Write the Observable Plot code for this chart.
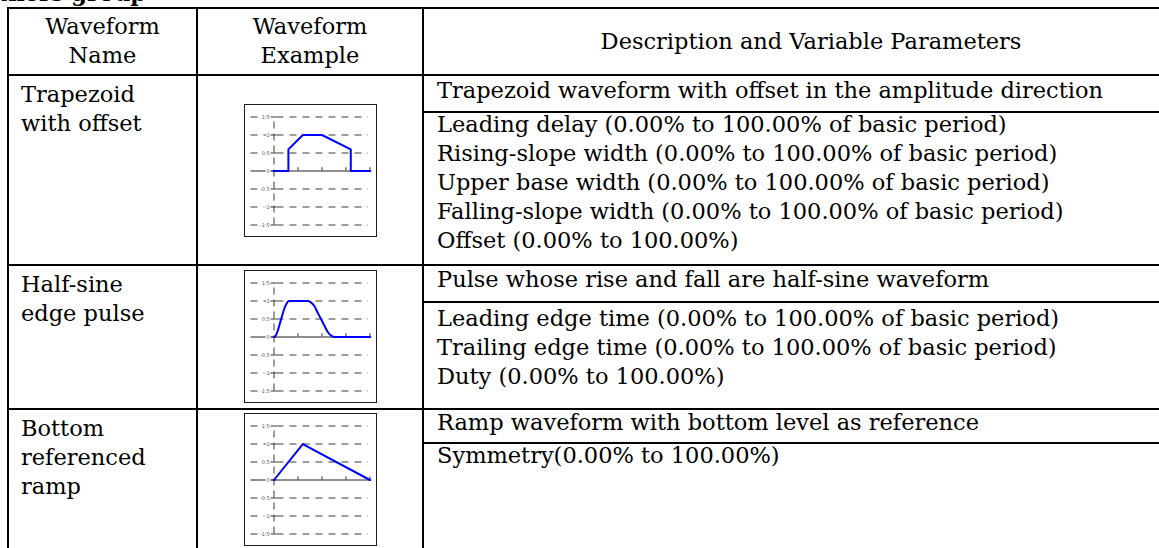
<!DOCTYPE html>
<html><head><meta charset="utf-8">
<script src="https://cdn.jsdelivr.net/npm/d3@7"></script>
<script src="https://cdn.jsdelivr.net/npm/@observablehq/plot@0.6"></script>
<style>
html,body{margin:0;padding:0;background:#fff;}
#page{position:relative;width:1159px;height:548px;overflow:hidden;font-family:"DejaVu Serif",serif;font-size:22.5px;line-height:29px;color:#000;}
.ln{position:absolute;background:#000;}
.t{position:absolute;white-space:nowrap;}
.cell{position:absolute;display:flex;align-items:center;justify-content:center;text-align:center;white-space:nowrap;}
.left{justify-content:flex-start;text-align:left;}
</style></head><body><div id="page"></div>
<script>
// ---------------- data ----------------
const sectionTitle = "Others group";
const headerLabels = ["Waveform\nName", "Waveform\nExample", "Description and Variable Parameters"];
const waveformNames = ["Trapezoid\nwith offset", "Half-sine\nedge pulse", "Bottom\nreferenced\nramp"];
const waveformSummaries = [
  "Trapezoid waveform with offset in the amplitude direction",
  "Pulse whose rise and fall are half-sine waveform",
  "Ramp waveform with bottom level as reference"
];
const trapezoidParams = [
  "Leading delay (0.00% to 100.00% of basic period)",
  "Rising-slope width (0.00% to 100.00% of basic period)",
  "Upper base width (0.00% to 100.00% of basic period)",
  "Falling-slope width (0.00% to 100.00% of basic period)",
  "Offset (0.00% to 100.00%)"
];
const halfSineParams = [
  "Leading edge time (0.00% to 100.00% of basic period)",
  "Trailing edge time (0.00% to 100.00% of basic period)",
  "Duty (0.00% to 100.00%)"
];
const rampParams = ["Symmetry(0.00% to 100.00%)"];

// waveform samples (time as fraction of period, amplitude)
const trapezoidT = [0, 0.15, 0.15, 0.30, 0.50, 0.80, 0.80, 1.00];
const trapezoidV = [0, 0, 0.6, 1, 1, 0.6, 0, 0];
const halfSineT = [0, 0.02, 0.04, 0.06, 0.08, 0.10, 0.12, 0.14, 0.16, 0.35, 0.38, 0.42, 0.46, 0.49, 0.52, 0.56, 0.60, 0.63, 1.00];
const halfSineV = [0, 0.05, 0.18, 0.36, 0.55, 0.73, 0.87, 0.97, 1.0, 1.0, 0.97, 0.86, 0.65, 0.50, 0.34, 0.14, 0.03, 0, 0];
const rampT = [0, 0.30, 1.00];
const rampV = [0, 1, 0];

const yTickValues = [1.5, 1, 0.5, 0, -0.5, -1, -1.5];
const yTickLabels = ["1.5", "1", "0.5", "0", "-0.5", "-1", "-1.5"];
const xTickValues = [0.25, 0.5, 0.75, 1];
const gridSpan = [-0.24, 0.985];
const axisSpan = [-0.24, 1.02];

// ---------------- layout ----------------
const colX = [8, 197, 423, 1199];
const tableTop = 7.5, headerBottom = 75;
const rowTops = [75, 265, 408.5];
const rowSplits = [111.5, 302, 443];
const rowBottoms = [265, 408.5, 550];
const summaryShift = [-3, -4, -3];
const paramShift = [-1.5, 2.5, -2];

const page = document.getElementById("page");
function add(cls, css, html) {
  const d = document.createElement("div");
  d.className = cls;
  Object.assign(d.style, css);
  if (html !== undefined) d.innerHTML = html;
  page.appendChild(d);
  return d;
}
const br = s => s.split("\n").join("<br>");

function miniChart(T, V, curve) {
  const data = T.map((t, i) => ({t, v: V[i]}));
  const ticks = yTickValues.map((y, i) => ({y, label: yTickLabels[i]}));
  return Plot.plot({
    width: 131, height: 131, margin: 0,
    style: {border: "1.5px solid #1c1c1c", background: "#fff", display: "block", overflow: "visible"},
    x: {domain: [-0.297, 1.068], axis: null},
    y: {domain: [-1.82, 1.82], axis: null},
    marks: [
      Plot.ruleY(yTickValues.filter(d => d !== 0), {x1: gridSpan[0], x2: gridSpan[1], stroke: "#3c3c3c", strokeWidth: 1.2, strokeDasharray: "7,6"}),
      Plot.ruleX([0], {y1: -1.5, y2: 1.5, stroke: "#5a5a5a", strokeWidth: 1.2, strokeDasharray: "7,5"}),
      Plot.ruleY([0], {x1: axisSpan[0], x2: axisSpan[1], stroke: "#222", strokeWidth: 1}),
      Plot.ruleY(yTickValues, {x1: -0.03, x2: 0.03, stroke: "#333"}),
      Plot.ruleX(xTickValues, {y1: 0, y2: 0.09, stroke: "#333"}),
      Plot.text(ticks, {x: -0.045, y: "y", text: "label", textAnchor: "end", fontSize: 5, fill: "#555", stroke: "#fff", strokeWidth: 2.5, paintOrder: "stroke", fontFamily: "DejaVu Sans"}),
      Plot.line(data, {x: "t", y: "v", stroke: "#0000ff", strokeWidth: 2, curve})
    ]
  });
}

// section title (cut off at top, as in the source page)
add("t", {right: (1159 - 146) + "px", top: "-20.8px", fontWeight: "bold"}, sectionTitle);

// header cells
for (let c = 0; c < 3; c++) {
  add("cell", {left: colX[c] + "px", top: tableTop + "px", width: (colX[c + 1] - colX[c]) + "px", height: (headerBottom - tableTop) + "px"}, br(headerLabels[c]));
}

const charts = [
  miniChart(trapezoidT, trapezoidV, "linear"),
  miniChart(halfSineT, halfSineV, "monotone-x"),
  miniChart(rampT, rampV, "linear")
];
const params = [trapezoidParams, halfSineParams, rampParams];

for (let r = 0; r < 3; r++) {
  // name
  add("t", {left: "21px", top: (rowTops[r] + 5) + "px"}, br(waveformNames[r]));
  // chart
  const cc = add("cell", {left: colX[1] + "px", top: rowTops[r] + "px", width: (colX[2] - colX[1]) + "px", height: (rowBottoms[r] - rowTops[r]) + "px"});
  cc.appendChild(charts[r]);
  // summary
  add("cell left", {left: "437px", top: (rowTops[r] + summaryShift[r]) + "px", width: "740px", height: (rowSplits[r] - rowTops[r]) + "px"}, waveformSummaries[r]);
  // parameters
  add("t", {left: "437px", top: (rowSplits[r] - 0.5 + paramShift[r]) + "px"}, params[r].join("<br>"));
}

// grid lines
const fullH = [tableTop, headerBottom, rowTops[1], rowTops[2]];
fullH.forEach(y => add("ln", {left: (colX[0] - 1) + "px", top: (y - 1) + "px", width: "1200px", height: "2px"}));
rowSplits.forEach(y => add("ln", {left: (colX[2] - 1) + "px", top: (y - 1) + "px", width: "800px", height: "2px"}));
colX.slice(0, 3).forEach(x => add("ln", {left: (x - 1) + "px", top: (tableTop - 1) + "px", width: "2px", height: "600px"}));
</script></body></html>
